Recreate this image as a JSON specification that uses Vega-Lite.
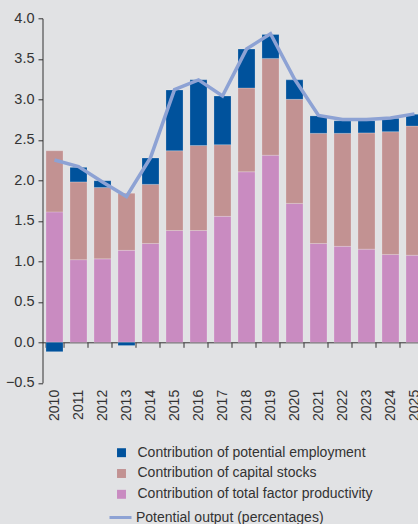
{
  "$schema": "https://vega.github.io/schema/vega-lite/v6.json",
  "width": 384,
  "height": 364.5,
  "autosize": "none",
  "padding": {"left": 42.5, "top": 18.3, "right": -8.5, "bottom": 141.2},
  "background": "#e1e2e4",
  "config": {
    "view": {"stroke": null},
    "font": "Liberation Sans",
    "axis": {"labelColor": "#333333", "domainColor": "#333333", "tickColor": "#333333", "grid": false, "title": null, "labelFont": "Liberation Sans", "labelFontSize": 14.5},
    "legend": {"labelColor": "#333333", "labelFont": "Liberation Sans", "labelFontSize": 14, "labelLimit": 400, "padding": 0, "title": null}
  },
  "datasets": {
    "bars": [
      {"year": "2010", "component": "Contribution of total factor productivity", "value": 1.61},
      {"year": "2010", "component": "Contribution of capital stocks", "value": 0.755},
      {"year": "2010", "component": "Contribution of potential employment", "value": -0.116},
      {"year": "2011", "component": "Contribution of total factor productivity", "value": 1.02},
      {"year": "2011", "component": "Contribution of capital stocks", "value": 0.96},
      {"year": "2011", "component": "Contribution of potential employment", "value": 0.18},
      {"year": "2012", "component": "Contribution of total factor productivity", "value": 1.03},
      {"year": "2012", "component": "Contribution of capital stocks", "value": 0.88},
      {"year": "2012", "component": "Contribution of potential employment", "value": 0.085},
      {"year": "2013", "component": "Contribution of total factor productivity", "value": 1.135},
      {"year": "2013", "component": "Contribution of capital stocks", "value": 0.705},
      {"year": "2013", "component": "Contribution of potential employment", "value": -0.04},
      {"year": "2014", "component": "Contribution of total factor productivity", "value": 1.22},
      {"year": "2014", "component": "Contribution of capital stocks", "value": 0.73},
      {"year": "2014", "component": "Contribution of potential employment", "value": 0.325},
      {"year": "2015", "component": "Contribution of total factor productivity", "value": 1.38},
      {"year": "2015", "component": "Contribution of capital stocks", "value": 0.985},
      {"year": "2015", "component": "Contribution of potential employment", "value": 0.75},
      {"year": "2016", "component": "Contribution of total factor productivity", "value": 1.38},
      {"year": "2016", "component": "Contribution of capital stocks", "value": 1.05},
      {"year": "2016", "component": "Contribution of potential employment", "value": 0.81},
      {"year": "2017", "component": "Contribution of total factor productivity", "value": 1.555},
      {"year": "2017", "component": "Contribution of capital stocks", "value": 0.885},
      {"year": "2017", "component": "Contribution of potential employment", "value": 0.6},
      {"year": "2018", "component": "Contribution of total factor productivity", "value": 2.105},
      {"year": "2018", "component": "Contribution of capital stocks", "value": 1.035},
      {"year": "2018", "component": "Contribution of potential employment", "value": 0.48},
      {"year": "2019", "component": "Contribution of total factor productivity", "value": 2.31},
      {"year": "2019", "component": "Contribution of capital stocks", "value": 1.195},
      {"year": "2019", "component": "Contribution of potential employment", "value": 0.295},
      {"year": "2020", "component": "Contribution of total factor productivity", "value": 1.715},
      {"year": "2020", "component": "Contribution of capital stocks", "value": 1.285},
      {"year": "2020", "component": "Contribution of potential employment", "value": 0.24},
      {"year": "2021", "component": "Contribution of total factor productivity", "value": 1.22},
      {"year": "2021", "component": "Contribution of capital stocks", "value": 1.36},
      {"year": "2021", "component": "Contribution of potential employment", "value": 0.215},
      {"year": "2022", "component": "Contribution of total factor productivity", "value": 1.185},
      {"year": "2022", "component": "Contribution of capital stocks", "value": 1.395},
      {"year": "2022", "component": "Contribution of potential employment", "value": 0.155},
      {"year": "2023", "component": "Contribution of total factor productivity", "value": 1.15},
      {"year": "2023", "component": "Contribution of capital stocks", "value": 1.435},
      {"year": "2023", "component": "Contribution of potential employment", "value": 0.15},
      {"year": "2024", "component": "Contribution of total factor productivity", "value": 1.085},
      {"year": "2024", "component": "Contribution of capital stocks", "value": 1.515},
      {"year": "2024", "component": "Contribution of potential employment", "value": 0.165},
      {"year": "2025", "component": "Contribution of total factor productivity", "value": 1.075},
      {"year": "2025", "component": "Contribution of capital stocks", "value": 1.595},
      {"year": "2025", "component": "Contribution of potential employment", "value": 0.145}
    ],
    "line": [
      {"year": "2010", "output": 2.25},
      {"year": "2011", "output": 2.17},
      {"year": "2012", "output": 1.98},
      {"year": "2013", "output": 1.8},
      {"year": "2014", "output": 2.28},
      {"year": "2015", "output": 3.12},
      {"year": "2016", "output": 3.24},
      {"year": "2017", "output": 3.04},
      {"year": "2018", "output": 3.62},
      {"year": "2019", "output": 3.81},
      {"year": "2020", "output": 3.25},
      {"year": "2021", "output": 2.8},
      {"year": "2022", "output": 2.75},
      {"year": "2023", "output": 2.75},
      {"year": "2024", "output": 2.77},
      {"year": "2025", "output": 2.82}
    ]
  },
  "layer": [
    {
      "data": {"name": "bars"},
      "transform": [
        {"calculate": "indexof(['Contribution of total factor productivity','Contribution of capital stocks','Contribution of potential employment'], datum.component)", "as": "stackOrder"}
      ],
      "mark": {"type": "bar", "stroke": "#ffffff", "strokeOpacity": 0.3, "strokeWidth": 0.7},
      "encoding": {
        "x": {
          "field": "year", "type": "ordinal",
          "scale": {"paddingInner": 0.29, "paddingOuter": 0.145},
          "axis": {"offset": -40.5, "tickBand": "extent", "labelAngle": -90, "labelAlign": "right", "labelBaseline": "middle", "labelPadding": 42, "tickSize": 5, "labelFontSize": 14}
        },
        "y": {
          "field": "value", "type": "quantitative", "stack": "zero",
          "scale": {"domain": [-0.5, 4], "nice": false, "zero": false},
          "axis": {"values": [-0.5, 0, 0.5, 1, 1.5, 2, 2.5, 3, 3.5, 4], "format": ".1f", "tickSize": 4.5, "labelPadding": 4}
        },
        "fill": {
          "field": "component", "type": "nominal",
          "scale": {
            "domain": ["Contribution of potential employment", "Contribution of capital stocks", "Contribution of total factor productivity"],
            "range": ["#00529c", "#c29292", "#c98bc1"]
          },
          "legend": {"orient": "none", "legendX": 72, "legendY": 427.4, "symbolType": "square", "symbolSize": 80, "symbolStrokeWidth": 0, "labelOffset": 9, "rowPadding": 6.8}
        },
        "order": {"field": "stackOrder", "type": "quantitative"}
      }
    },
    {
      "data": {"name": "line"},
      "mark": {"type": "line", "strokeWidth": 3.5},
      "encoding": {
        "x": {"field": "year", "type": "ordinal"},
        "y": {"field": "output", "type": "quantitative"},
        "stroke": {
          "datum": "Potential output (percentages)",
          "scale": {"range": ["#8da2d4"]},
          "legend": {"orient": "none", "legendX": 65.5, "legendY": 486.7, "symbolType": "stroke", "symbolSize": 484, "symbolStrokeWidth": 3, "labelOffset": 3}
        }
      }
    }
  ]
}
